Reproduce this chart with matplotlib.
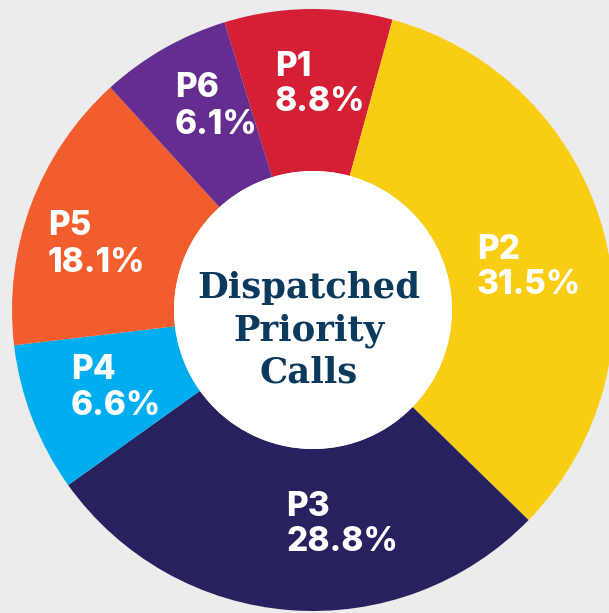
import matplotlib.pyplot as plt
from matplotlib.patches import Circle

# Data: priority labels, printed percentages, and slice shares as drawn
priorities = ['P1', 'P2', 'P3', 'P4', 'P5', 'P6']
pct_labels = ['8.8%', '31.5%', '28.8%', '6.6%', '18.1%', '6.1%']
slice_share = [9.0, 33.0, 27.8, 8.0, 15.1, 7.0]
colors = ['#d41f35', '#f9cd14', '#27215f', '#00aeef', '#f15d2d', '#652d90']
center_title = ['Dispatched', 'Priority', 'Calls']

W, H = 609, 613
fig = plt.figure(figsize=(W / 100, H / 100), dpi=100, facecolor='#ececec')
ax = fig.add_axes([0, 0, 1, 1])
ax.set_facecolor('#ececec')

cx, cy = 313, H - 310
r_out, r_in = 301, 139

ax.pie(slice_share, colors=colors, startangle=107.1, counterclock=False,
       radius=r_out, center=(cx, cy),
       wedgeprops=dict(width=r_out - r_in, linewidth=0))
ax.add_patch(Circle((cx, cy), r_in, facecolor='white', edgecolor='none', zorder=3))

ax.set_xlim(0, W)
ax.set_ylim(0, H)
ax.set_aspect('equal')
ax.axis('off')

# label anchor points (left x, baseline of first line, baseline of second line) in pixels
label_pos = [(275, 76, 111), (477, 259, 294), (286, 516, 551),
             (71, 379, 415), (48, 235, 272), (175, 97, 134)]
for name, pct, (x, y1, y2) in zip(priorities, pct_labels, label_pos):
    ax.text(x, H - y1, name, color='white', fontsize=24, fontweight='heavy',
            family='Inter', ha='left', va='baseline', zorder=4)
    ax.text(x, H - y2, pct, color='white', fontsize=24, fontweight='heavy',
            family='Inter', ha='left', va='baseline', zorder=4)

for line, yb in zip(center_title, [298, 340, 382.5]):
    ax.text(309, H - yb, line, color='#0b3a5c', fontsize=25.5, fontweight='bold',
            family='DejaVu Serif', ha='center', va='baseline', zorder=4)

plt.savefig('out.png', dpi=100, facecolor=fig.get_facecolor())
